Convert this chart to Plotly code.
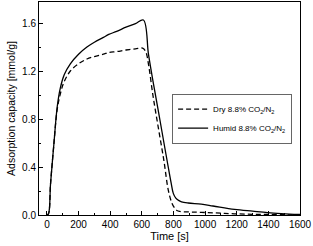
import plotly.graph_objects as go

# Data
t_humid = [0, 10, 23, 44, 65, 85, 110, 148, 200, 253, 300, 357, 391, 441, 500, 560, 610,
           642, 670, 704, 740, 767, 785, 799, 815, 830, 851, 893, 976, 1050, 1186, 1300, 1395, 1480, 1562, 1600]
v_humid = [0.0, 0.01, 0.26, 0.59, 0.90, 1.06, 1.17, 1.26, 1.34, 1.40, 1.44, 1.48, 1.505, 1.53, 1.565, 1.595, 1.625,
           1.34, 1.12, 0.87, 0.60, 0.40, 0.27, 0.18, 0.14, 0.124, 0.11, 0.10, 0.09, 0.075, 0.047, 0.032, 0.02, 0.012, 0.006, 0.004]

t_dry = [0, 10, 23, 44, 65, 85, 107, 148, 200, 253, 300, 357, 391, 441, 500, 560, 605,
         625, 642, 670, 704, 740, 767, 790, 809, 825, 840, 851, 930, 1017, 1100, 1186, 1300, 1400, 1500, 1560]
v_dry = [0.0, 0.01, 0.26, 0.59, 0.88, 1.01, 1.105, 1.20, 1.26, 1.30, 1.32, 1.34, 1.354, 1.362, 1.375, 1.385, 1.39,
         1.36, 1.258, 1.0, 0.73, 0.45, 0.21, 0.10, 0.055, 0.035, 0.03, 0.028, 0.024, 0.02, 0.015, 0.01, 0.006, 0.004, 0.002, 0.001]

x_ticks = [0, 200, 400, 600, 800, 1000, 1200, 1400, 1600]
y_ticks = [0.0, 0.4, 0.8, 1.2, 1.6]

fig = go.Figure()
fig.add_trace(go.Scatter(x=t_dry, y=v_dry, mode="lines", name="Dry 8.8% CO<sub>2</sub>/N<sub>2</sub>",
                         line=dict(color="black", width=1.3, dash="5px,3px"), line_shape="spline"))
fig.add_trace(go.Scatter(x=t_humid, y=v_humid, mode="lines", name="Humid 8.8% CO<sub>2</sub>/N<sub>2</sub>",
                         line=dict(color="black", width=1.3), line_shape="spline"))

fig.update_layout(
    width=313, height=246,
    margin=dict(l=39, r=10, t=1, b=31),
    paper_bgcolor="white", plot_bgcolor="white",
    font=dict(family="Liberation Sans, Arial, sans-serif", color="black", size=10),
    showlegend=True,
    legend=dict(x=0.51, y=0.57, xanchor="left", yanchor="top",
                bordercolor="#666", borderwidth=1, bgcolor="white",
                font=dict(size=8), tracegroupgap=0, itemwidth=30),
)
fig.update_xaxes(range=[-50, 1600], tickvals=x_ticks, ticktext=[str(v) for v in x_ticks],
                 ticklabeloverflow="allow",
                 ticks="inside", ticklen=4, tickwidth=1, tickcolor="black",
                 minor=dict(dtick=100, tick0=0, ticks="inside", ticklen=2, tickcolor="black", showgrid=False),
                 showline=True, linecolor="black", linewidth=1, mirror=True, showgrid=False, zeroline=False,
                 title=dict(text="Time [s]", font=dict(size=11), standoff=3))
fig.update_yaxes(range=[0, 1.775], tickvals=y_ticks, ticktext=["%.1f" % v for v in y_ticks],
                 ticks="inside", ticklen=4, tickwidth=1, tickcolor="black",
                 minor=dict(dtick=0.2, tick0=0, ticks="inside", ticklen=2, tickcolor="black", showgrid=False),
                 showline=True, linecolor="black", linewidth=1, mirror=True, showgrid=False, zeroline=False,
                 title=dict(text="Adsorption capacity [mmol/g]", font=dict(size=10.5), standoff=4))

fig.write_html("out.html")
